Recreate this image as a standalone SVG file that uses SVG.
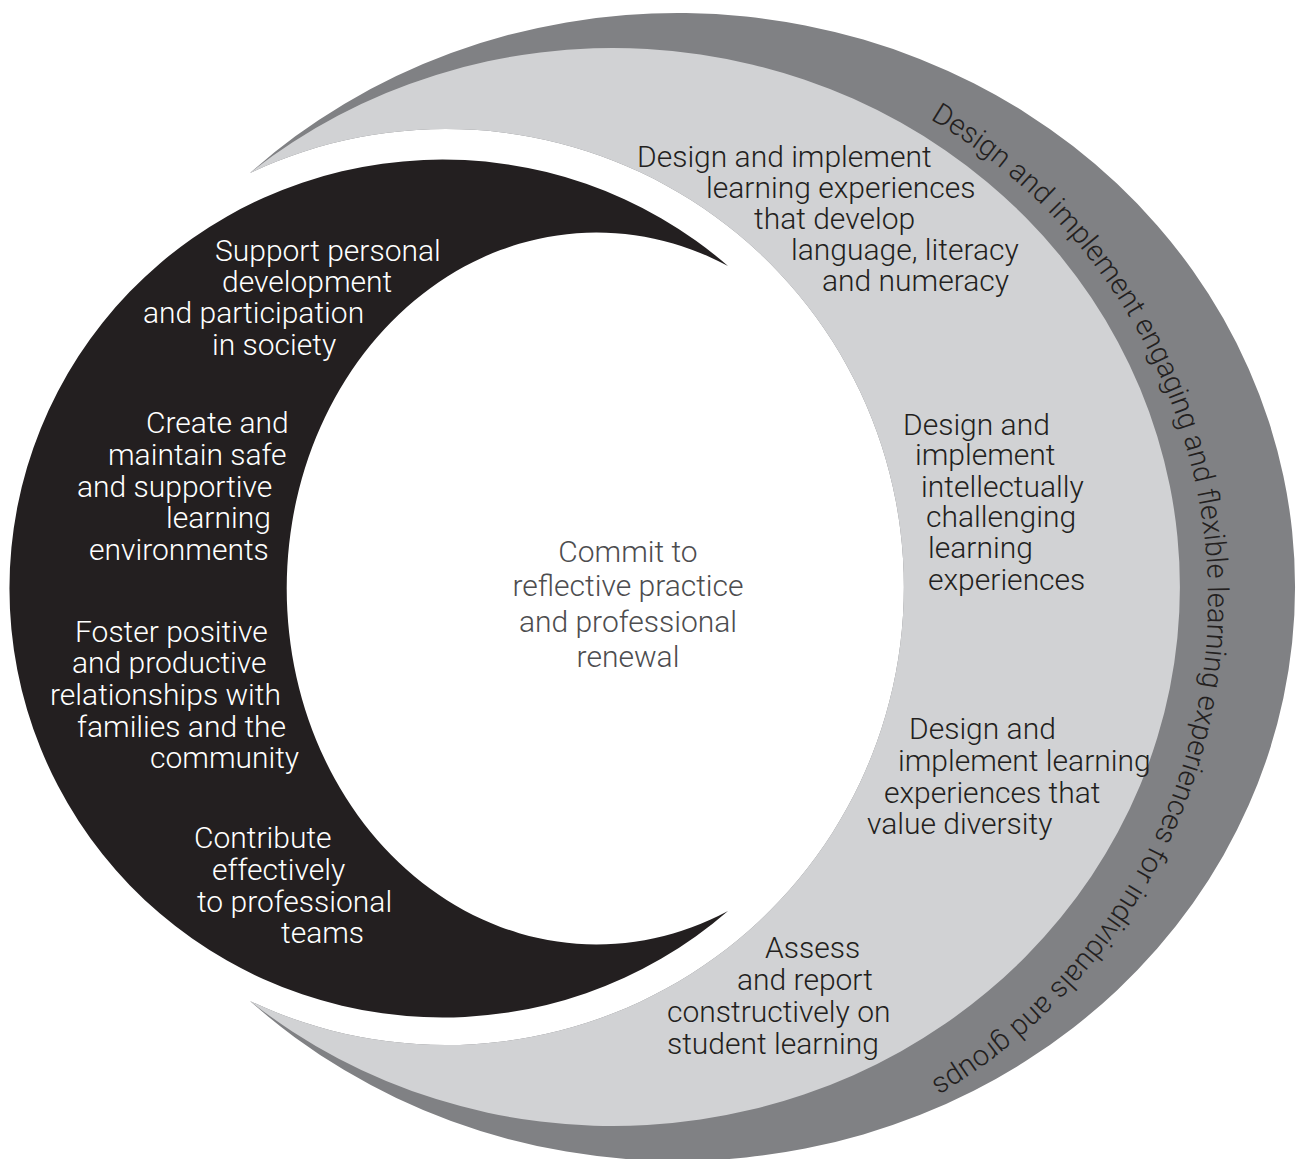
<svg xmlns="http://www.w3.org/2000/svg" width="1299" height="1159" viewBox="0 0 1299 1159">
<style>
text{font-family:Roboto,"Liberation Sans",Arial,sans-serif;font-weight:300;font-size:30px}
.w{fill:#ffffff}
.d{fill:#231f20}
.c{fill:#4d4d4f;text-anchor:middle}
.arc{font-size:29px;fill:#231f20}
</style>
<defs>
<path id="bandPath" d="M930.1,119 A579,563.7 0 0,1 918.5,1088.7"/>
</defs>
<rect width="1299" height="1159" fill="#ffffff"/>
<g id="outer-band">
<path d="M250,173 A617.4,574 0 1,1 250,1001 A458,458 0 1,0 250,173 Z" fill="#808184"/>
</g>
<g id="light-crescent">
<path d="M250,173 A566.9,539 0 1,1 250,1001 A458,458 0 1,0 250,173 Z" fill="#d1d2d4"/>
</g>
<g id="black-crescent">
<path d="M728,266 A433,429 0 1,0 728,911 A310,356 0 1,1 728,266 Z" fill="#231f20"/>
</g>
<g id="band-label">
<text class="arc"><textPath href="#bandPath">Design and implement engaging and flexible learning experiences for individuals and groups</textPath></text>
</g>
<g id="node-support">
<text class="w" x="215" y="261">Support personal</text>
<text class="w" x="222" y="292">development</text>
<text class="w" x="143" y="323">and participation</text>
<text class="w" x="212" y="355">in society</text>
</g>
<g id="node-safe">
<text class="w" x="146" y="433">Create and</text>
<text class="w" x="108" y="465">maintain safe</text>
<text class="w" x="77" y="497">and supportive</text>
<text class="w" x="166" y="528">learning</text>
<text class="w" x="89" y="560">environments</text>
</g>
<g id="node-relationships">
<text class="w" x="75" y="642">Foster positive</text>
<text class="w" x="72" y="673">and productive</text>
<text class="w" x="50" y="705">relationships with</text>
<text class="w" x="77" y="737">families and the</text>
<text class="w" x="150" y="768">community</text>
</g>
<g id="node-teams">
<text class="w" x="194" y="848">Contribute</text>
<text class="w" x="212" y="880">effectively</text>
<text class="w" x="197" y="912">to professional</text>
<text class="w" x="281" y="943">teams</text>
</g>
<g id="node-literacy">
<text class="d" x="637" y="167">Design and implement</text>
<text class="d" x="706" y="198">learning experiences</text>
<text class="d" x="754" y="229">that develop</text>
<text class="d" x="791" y="260">language, literacy</text>
<text class="d" x="822" y="291">and numeracy</text>
</g>
<g id="node-intellectual">
<text class="d" x="903" y="435">Design and</text>
<text class="d" x="915" y="465">implement</text>
<text class="d" x="921" y="497">intellectually</text>
<text class="d" x="926" y="527">challenging</text>
<text class="d" x="928" y="558">learning</text>
<text class="d" x="928" y="590">experiences</text>
</g>
<g id="node-diversity">
<text class="d" x="909" y="739">Design and</text>
<text class="d" x="898" y="771">implement learning</text>
<text class="d" x="884" y="803">experiences that</text>
<text class="d" x="867" y="834">value diversity</text>
</g>
<g id="node-assess">
<text class="d" x="765" y="958">Assess</text>
<text class="d" x="737" y="990">and report</text>
<text class="d" x="667" y="1022">constructively on</text>
<text class="d" x="667" y="1054">student learning</text>
</g>
<g id="node-center">
<text class="c" x="628" y="562">Commit to</text>
<text class="c" x="628" y="596">reflective practice</text>
<text class="c" x="628" y="632">and professional</text>
<text class="c" x="628" y="667">renewal</text>
</g>
<g id="connectors"></g>
</svg>
